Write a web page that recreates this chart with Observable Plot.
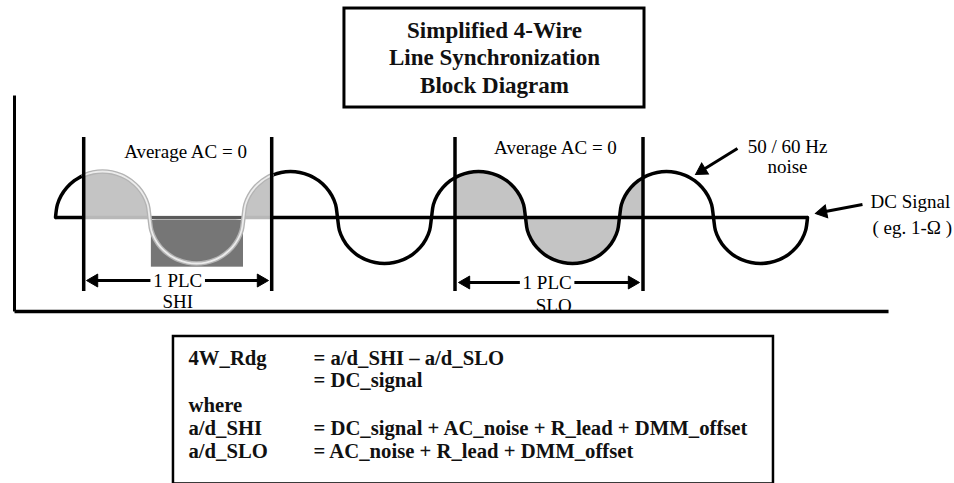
<!DOCTYPE html>
<html><head><meta charset="utf-8">
<script src="https://cdn.jsdelivr.net/npm/d3@7"></script>
<script src="https://cdn.jsdelivr.net/npm/@observablehq/plot@0.6"></script>
<style>html,body{margin:0;padding:0;background:#fff;}#chart svg{display:block}</style>
</head><body><div id="chart"></div>
<script>
// ---- data (t = time in half-periods of the 50/60 Hz noise, v = noise amplitude) ----
const lobeU    = [0, 0.02, 0.06, 0.12, 0.2, 0.25, 0.3, 0.4, 0.5, 0.6, 0.7, 0.75, 0.8, 0.88, 0.94, 0.98];
const lobeMag  = [0, 0.28, 0.475, 0.65, 0.8, 0.866, 0.917, 0.98, 1, 0.98, 0.917, 0.866, 0.8, 0.65, 0.475, 0.28];
const lobeSign = [1, -1, 1, -1, 1, -1, 1, -1];
const waveEnd  = {t: 8, v: 0};

const windows = [
  {name: "SHI", t1: 0.3, t2: 2.3, vTop: 1.739, vBottom: -1.609},
  {name: "SLO", t1: 4.25, t2: 6.25, vTop: 1.739, vBottom: -1.609}
];
const darkBlock = [{t1: 1.02, t2: 2.0, v1: -0.06, v2: -1.08}];
const dcLine = [{t1: 0, t2: 8}];

const axesFrame = {tLeft: -0.436, tRight: 8.862, vTop: 2.652, vBottom: -2.043};

const arrows = [
  {id: "shiL", t1: 1.01, v1: -1.37, t2: 0.33, v2: -1.37},
  {id: "shiR", t1: 1.59, v1: -1.37, t2: 2.266, v2: -1.37},
  {id: "sloL", t1: 4.94, v1: -1.413, t2: 4.287, v2: -1.413},
  {id: "sloR", t1: 5.52, v1: -1.413, t2: 6.213, v2: -1.413},
  {id: "noise", t1: 7.255, v1: 1.5, t2: 6.809, v2: 0.935},
  {id: "dc", t1: 8.585, v1: 0.283, t2: 8.085, v2: 0.087}
];

const centerLabels = [
  {text: "Average AC = 0", t: 1.383, v: 1.304},
  {text: "Average AC = 0", t: 5.319, v: 1.37},
  {text: "SHI", t: 1.30, v: -1.957},
  {text: "SLO", t: 5.30, v: -2.065},
  {text: "50 / 60 Hz", t: 7.787, v: 1.413},
  {text: "noise", t: 7.787, v: 0.957}
];
const plcLabels = [
  {text: "1 PLC", t: 1.30, v: -1.37},
  {text: "1 PLC", t: 5.23, v: -1.413}
];
const sideLabels = [
  {text: "DC Signal", t: 8.670, v: 0.196},
  {text: "( eg. 1-\u03A9 )", t: 8.691, v: -0.348}
];

const titleBox = [{t1: 3.074, t2: 6.266, v1: 2.391, v2: 4.543}];
const titleLines = [
  {text: "Simplified 4-Wire", t: 4.670, v: 3.913},
  {text: "Line Synchronization", t: 4.670, v: 3.315},
  {text: "Block Diagram", t: 4.670, v: 2.717}
];

const formulaBox = [{t1: 1.255, t2: 7.638, v1: -5.793, v2: -2.587}];
const formulaNames = ["4W_Rdg", "", "where", "a/d_SHI", "a/d_SLO"];
const formulaExprs = ["= a/d_SHI \u2013 a/d_SLO", "= DC_signal", "", "= DC_signal + AC_noise + R_lead + DMM_offset", "= AC_noise + R_lead + DMM_offset"];
const formulaRowsV = [-3.217, -3.674, -4.239, -4.739, -5.239];
const formulaColsT = [1.415, 2.745];

// ---- build tables ----
const wave = [];
lobeSign.forEach((s, k) => lobeU.forEach((u, i) => wave.push({t: k + u, v: s * lobeMag[i]})));
wave.push(waveEnd);

const W = 954, H = 483;
const X_DOMAIN = [-0.5851, 9.5638];
const Y_DOMAIN = [-5.7826, 4.7174];
const pxX = W / (X_DOMAIN[1] - X_DOMAIN[0]);
const pxY = H / (Y_DOMAIN[1] - Y_DOMAIN[0]);
const headR = 4.8;
const tipDist = 2 * headR * Math.sqrt(Math.PI / (3 * Math.sqrt(3)));
const arrowGeom = arrows.map(a => {
  const dx = (a.t2 - a.t1) * pxX, dy = -(a.v2 - a.v1) * pxY;
  const len = Math.hypot(dx, dy), ux = dx / len, uy = dy / len;
  return {...a,
    ht: a.t2 - tipDist * ux / pxX,
    hv: a.v2 + tipDist * uy / pxY,
    rot: Math.atan2(ux, -uy) * 180 / Math.PI};
});

const shi = windows[0], slo = windows[1];
const inW = (w) => (d) => d.t >= w.t1 - 1e-9 && d.t <= w.t2 + 1e-9;
const serif = "Liberation Serif, Times New Roman, serif";
const curve = "catmull-rom";

const formulaTexts = [];
formulaRowsV.forEach((v, i) => {
  formulaTexts.push({text: formulaNames[i], t: formulaColsT[0], v});
  formulaTexts.push({text: formulaExprs[i], t: formulaColsT[1], v});
});

const chart = Plot.plot({
  width: W, height: H, margin: 0,
  x: {domain: X_DOMAIN, axis: null},
  y: {domain: Y_DOMAIN, axis: null},
  style: {background: "white"},
  marks: [
    // shaded areas
    Plot.areaY(wave, {filter: inW(slo), x: "t", y1: 0, y2: "v", fill: "#c4c4c4", curve}),
    Plot.areaY(wave, {filter: d => inW(shi)(d) && d.v >= 0, x: "t", y1: 0, y2: "v", fill: "#c4c4c4", curve}),
    Plot.rect(darkBlock, {x1: "t1", x2: "t2", y1: "v1", y2: "v2", fill: "#767676"}),
    // DC line
    Plot.link(dcLine, {x1: "t1", x2: d => shi.t1, y1: 0, y2: 0, stroke: "black", strokeWidth: 3.5}),
    Plot.link(dcLine, {x1: d => shi.t1, x2: d => shi.t2, y1: 0, y2: 0, stroke: "#b8b8b8", strokeWidth: 3.5}),
    Plot.link(darkBlock, {x1: "t1", x2: "t2", y1: 0, y2: 0, stroke: "#5a5a5a", strokeWidth: 3}),
    Plot.link(dcLine, {x1: d => shi.t2, x2: "t2", y1: 0, y2: 0, stroke: "black", strokeWidth: 3.5}),
    // noise wave
    Plot.line(wave, {filter: d => d.t <= shi.t1 + 1e-9, x: "t", y: "v", stroke: "black", strokeWidth: 3.5, curve}),
    Plot.line(wave, {filter: d => d.t >= shi.t2 - 1e-9, x: "t", y: "v", stroke: "black", strokeWidth: 3.5, curve}),
    Plot.line(wave, {filter: inW(shi), x: "t", y: "v", stroke: "#b4b4b4", strokeWidth: 4.5, curve}),
    Plot.line(wave, {filter: inW(shi), x: "t", y: "v", stroke: "#ececec", strokeWidth: 1.8, curve}),
    // window boundaries
    Plot.ruleX(windows, {x: "t1", y1: "vBottom", y2: "vTop", stroke: "black", strokeWidth: 3.5}),
    Plot.ruleX(windows, {x: "t2", y1: "vBottom", y2: "vTop", stroke: "black", strokeWidth: 3.5}),
    // arrows
    Plot.link(arrowGeom, {x1: "t1", y1: "v1", x2: "ht", y2: "hv", stroke: "black", strokeWidth: 3}),
    Plot.dot(arrowGeom, {x: "ht", y: "hv", symbol: "triangle", r: headR, rotate: "rot", fill: "black", stroke: "black", strokeWidth: 1}),
    // labels
    Plot.text(centerLabels, {x: "t", y: "v", text: "text", textAnchor: "middle", lineAnchor: "bottom", fontFamily: serif, fontSize: 19, fill: "black"}),
    Plot.text(plcLabels, {x: "t", y: "v", text: "text", textAnchor: "middle", lineAnchor: "middle", fontFamily: serif, fontSize: 19, fill: "black"}),
    Plot.text(sideLabels, {x: "t", y: "v", text: "text", textAnchor: "start", lineAnchor: "bottom", fontFamily: serif, fontSize: 19, fill: "black"}),
    // chart frame
    Plot.link([axesFrame], {x1: "tLeft", x2: "tLeft", y1: "vBottom", y2: "vTop", stroke: "black", strokeWidth: 3}),
    Plot.link([axesFrame], {x1: "tLeft", x2: "tRight", y1: "vBottom", y2: "vBottom", stroke: "black", strokeWidth: 3.5}),
    // title box
    Plot.rect(titleBox, {x1: "t1", x2: "t2", y1: "v1", y2: "v2", fill: "none", stroke: "black", strokeWidth: 3}),
    Plot.text(titleLines, {x: "t", y: "v", text: "text", textAnchor: "middle", lineAnchor: "bottom", fontFamily: serif, fontWeight: "bold", fontSize: 23, fill: "#111"}),
    // formula box
    Plot.rect(formulaBox, {x1: "t1", x2: "t2", y1: "v1", y2: "v2", fill: "none", stroke: "black", strokeWidth: 2.5}),
    Plot.text(formulaTexts, {x: "t", y: "v", text: "text", textAnchor: "start", lineAnchor: "bottom", fontFamily: serif, fontWeight: "bold", fontSize: 20.7, fill: "#111"})
  ]
});
document.getElementById("chart").appendChild(chart);
</script></body></html>
